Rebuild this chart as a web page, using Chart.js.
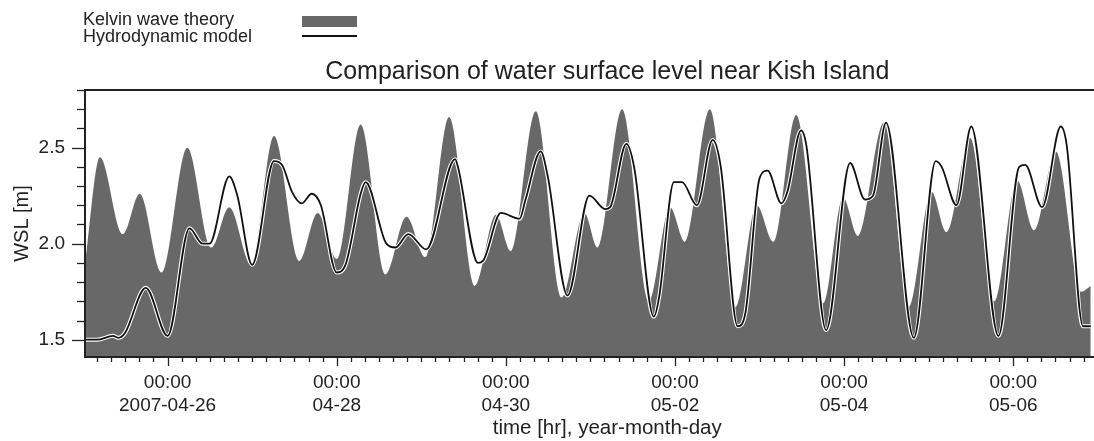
<!DOCTYPE html>
<html>
<head>
<meta charset="utf-8">
<title>Kish Island WSL</title>
<script src="https://cdn.jsdelivr.net/npm/chart.js@4.4.1/dist/chart.umd.min.js"></script>
<style>
  html, body { margin: 0; padding: 0; background: #fff; overflow: hidden; }
  #wrap { position: relative; width: 1094px; height: 441px; overflow: hidden; }
  #cv { position: absolute; left: 0; top: 0; }
  #legend { position: absolute; left: 83px; top: 11px; font: 18px Arial, "Liberation Sans", sans-serif; line-height: 17px; color: #222; }
  .sym { position: absolute; left: 302px; width: 55px; }
</style>
</head>
<body>
<div id="wrap">
  <canvas id="cv" width="1140" height="441"></canvas>
  <div id="legend">
    <div>Kelvin wave theory</div>
    <div>Hydrodynamic model</div>
  </div>
  <div class="sym" style="top:16px;height:11px;background:#686868;"></div>
  <div class="sym" style="top:35px;height:2px;background:#111;"></div>
</div>
<script>
// hours from 2007-04-26 00:00
var kelvinHours = [-23.4, -19.2, -12.7, -7.9, -1.7, 5.6, 12.4, 17.5, 23.7, 30.2, 37.3, 42.6, 48.0, 54.8, 61.8, 67.8,
  73.1, 79.9, 87.2, 93.2, 97.4, 104.5, 111.8, 118.3, 122.0, 129.0, 136.6, 142.6, 146.8, 153.9, 161.2, 167.2,
  171.9, 178.4, 186.1, 191.7, 195.9, 203.3, 210.4, 216.8, 221.0, 227.8, 234.6, 241.1, 245.9, 252.1, 259.2, 262.0];
var kelvinLevels = [1.90, 2.45, 2.05, 2.26, 1.85, 2.50, 1.98, 2.19, 1.89, 2.56, 1.91, 2.16, 1.92, 2.62, 1.84, 2.14,
  1.93, 2.66, 1.78, 2.15, 1.96, 2.69, 1.72, 2.16, 1.98, 2.70, 1.70, 2.19, 2.01, 2.70, 1.67, 2.20,
  2.01, 2.67, 1.69, 2.24, 2.04, 2.63, 1.67, 2.27, 2.06, 2.55, 1.70, 2.33, 2.07, 2.48, 1.75, 1.78];

var modelHours = [-23.4, -20.0, -15.5, -14.0, -12.1, -6.2, 0.0, 6.2, 9.9, 11.9, 17.5, 19.8, 24.0, 30.2, 32.5, 35.3,
  38.1, 40.9, 43.5, 48.0, 50.5, 54.8, 56.2, 62.1, 64.7, 68.3, 73.4, 81.6, 82.4, 88.1, 89.5, 94.6,
  99.9, 101.6, 105.9, 107.9, 113.5, 119.7, 124.2, 125.6, 130.2, 132.4, 138.0, 139.5, 143.7, 146.0, 150.2, 154.7,
  157.0, 161.8, 164.0, 168.0, 170.3, 174.2, 175.9, 179.8, 181.3, 186.9, 193.7, 197.9, 200.2, 203.9, 211.8, 218.0,
  219.7, 223.9, 228.1, 235.8, 241.7, 243.4, 248.2, 253.5, 255.2, 259.8, 262.0];
var modelLevels = [1.50, 1.50, 1.52, 1.51, 1.535, 1.77, 1.52, 2.08, 2.00, 2.00, 2.35, 2.25, 1.89, 2.43, 2.41, 2.27,
  2.21, 2.26, 2.20, 1.85, 1.89, 2.26, 2.32, 2.00, 1.98, 2.05, 1.97, 2.44, 2.40, 1.90, 1.91, 2.16,
  2.13, 2.23, 2.48, 2.35, 1.73, 2.25, 2.18, 2.19, 2.52, 2.40, 1.62, 1.72, 2.32, 2.32, 2.20, 2.54,
  2.40, 1.57, 1.64, 2.34, 2.38, 2.21, 2.27, 2.59, 2.51, 1.55, 2.42, 2.23, 2.25, 2.63, 1.51, 2.43,
  2.40, 2.20, 2.61, 1.52, 2.40, 2.41, 2.19, 2.61, 2.51, 1.57, 1.57];

var dayLabels = ['2007-04-26', '04-28', '04-30', '05-02', '05-04', '05-06'];
var yTickValues = [1.5, 1.6, 1.7, 1.8, 1.9, 2.0, 2.1, 2.2, 2.3, 2.4, 2.5, 2.6, 2.7, 2.8];

function pts(xs, ys) {
  return xs.map(function (x, i) { return { x: x, y: ys[i] }; });
}

var xTickHours = [];
for (var h = -20; h <= 272; h += 4) xTickHours.push(h);

function isMajorY(v) { return Math.abs(v * 2 - Math.round(v * 2)) < 1e-6; }

// frame + two-length tick marks
var frameTicks = {
  id: 'frameTicks',
  afterDraw: function (chart) {
    var ctx = chart.ctx, a = chart.chartArea;
    var xs = chart.scales.x, ys = chart.scales.y;
    ctx.save();
    ctx.strokeStyle = '#222';
    ctx.lineWidth = 1.3;
    xs.ticks.forEach(function (t) {
      var px = Math.round(xs.getPixelForValue(t.value)) + 0.5;
      var len = (t.value % 48 === 0) ? 9 : 5;
      ctx.beginPath(); ctx.moveTo(px, a.bottom); ctx.lineTo(px, a.bottom + len); ctx.stroke();
    });
    ys.ticks.forEach(function (t) {
      var py = Math.round(ys.getPixelForValue(t.value)) + 0.5;
      var len = isMajorY(t.value) ? 13 : 8;
      ctx.beginPath(); ctx.moveTo(a.left, py); ctx.lineTo(a.left - len, py); ctx.stroke();
    });
    ctx.lineWidth = 2;
    ctx.strokeRect(a.left, a.top, a.right - a.left, a.bottom - a.top);
    ctx.restore();
  }
};

new Chart(document.getElementById('cv'), {
  type: 'line',
  data: {
    datasets: [{
      label: 'Hydrodynamic model',
      data: pts(modelHours, modelLevels),
      borderColor: '#111',
      borderWidth: 1.8,
      pointRadius: 0,
      cubicInterpolationMode: 'monotone',
      fill: false,
      order: 0
    }, {
      label: 'model outline',
      data: pts(modelHours, modelLevels),
      borderColor: '#fff',
      borderWidth: 4,
      pointRadius: 0,
      cubicInterpolationMode: 'monotone',
      fill: false,
      order: 1
    }, {
      label: 'Kelvin wave theory',
      data: pts(kelvinHours, kelvinLevels),
      borderColor: '#686868',
      borderWidth: 0,
      backgroundColor: '#686868',
      pointRadius: 0,
      cubicInterpolationMode: 'monotone',
      fill: 'start',
      order: 2
    }]
  },
  options: {
    responsive: false,
    animation: false,
    devicePixelRatio: 1,
    layout: { padding: { top: 57, right: 5, left: 0, bottom: 0 } },
    plugins: {
      legend: { display: false },
      tooltip: { enabled: false },
      title: {
        display: true,
        fullSize: false,
        text: 'Comparison of water surface level near Kish Island',
        color: '#222',
        font: { family: 'Arial, "Liberation Sans", sans-serif', size: 25, weight: 'normal', lineHeight: 1.2 },
        padding: { top: 0, bottom: 3 }
      }
    },
    scales: {
      x: {
        type: 'linear',
        min: -23.44,
        max: 273,
        grid: { display: false, drawTicks: false },
        border: { display: false },
        afterBuildTicks: function (scale) {
          scale.ticks = xTickHours.map(function (v) { return { value: v }; });
        },
        afterFit: function (scale) { scale.height = 84; },
        ticks: {
          autoSkip: false,
          maxRotation: 0,
          padding: 14,
          color: '#222',
          font: { family: 'Arial, "Liberation Sans", sans-serif', size: 19, lineHeight: 1.21 },
          callback: function (value) {
            if (value % 48 === 0 && value >= 0) return ['00:00', dayLabels[value / 48]];
            return '';
          }
        },
        title: {
          display: true,
          text: 'time [hr], year-month-day',
          color: '#222',
          font: { family: 'Arial, "Liberation Sans", sans-serif', size: 20.5, lineHeight: 1.2 },
          padding: { top: 0, bottom: 0 }
        }
      },
      y: {
        min: 1.41,
        max: 2.8,
        grid: { display: false, drawTicks: false },
        border: { display: false },
        afterBuildTicks: function (scale) {
          scale.ticks = yTickValues.map(function (v) { return { value: v }; });
        },
        afterFit: function (scale) { scale.width = 85; },
        ticks: {
          autoSkip: false,
          padding: 20,
          color: '#222',
          font: { family: 'Arial, "Liberation Sans", sans-serif', size: 19 },
          callback: function (value) { return isMajorY(value) ? value.toFixed(1) : ''; }
        },
        title: {
          display: true,
          text: 'WSL [m]',
          color: '#222',
          font: { family: 'Arial, "Liberation Sans", sans-serif', size: 20, lineHeight: 1.2 },
          padding: { top: 10, bottom: 0 }
        }
      }
    }
  },
  plugins: [frameTicks]
});
</script>
</body>
</html>
